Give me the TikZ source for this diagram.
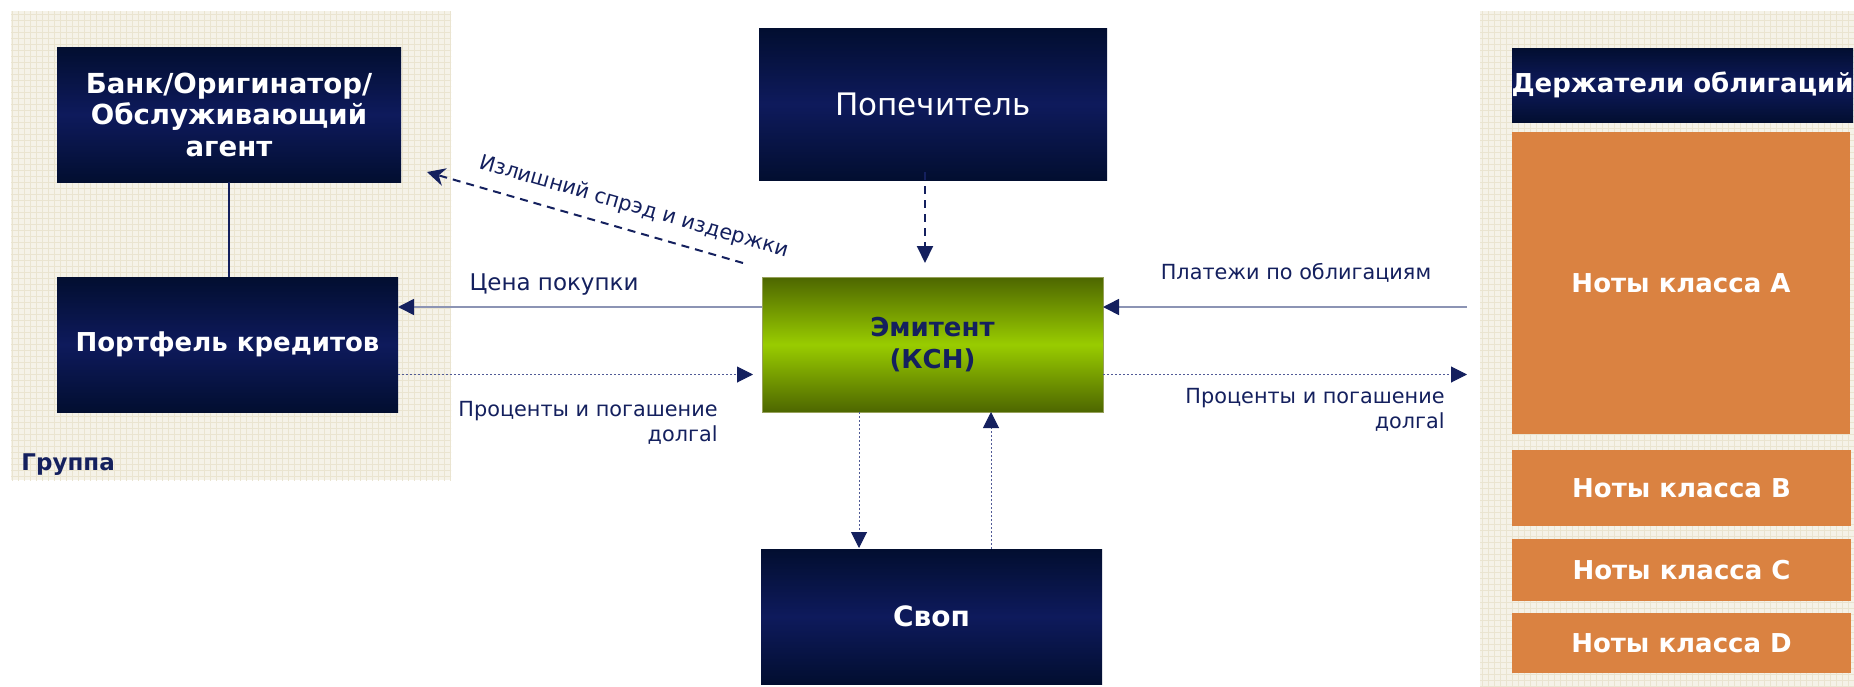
\documentclass[tikz,border=0pt]{standalone}
\usepackage{fontspec}
\setmainfont{DejaVu Sans}
\usetikzlibrary{arrows.meta,calc,patterns}
\definecolor{navyD}{RGB}{2,14,48}
\definecolor{navyM}{RGB}{14,26,92}
\definecolor{greenD}{RGB}{77,102,0}
\definecolor{greenM}{RGB}{153,204,0}
\definecolor{greenB}{RGB}{150,160,90}
\definecolor{orangeN}{RGB}{218,130,65}
\definecolor{beige}{RGB}{245,242,232}
\definecolor{beigeline}{RGB}{234,228,208}
\definecolor{ink}{RGB}{20,32,94}
\definecolor{lineblue}{RGB}{140,148,180}
\definecolor{dotblue}{RGB}{80,90,150}
\begin{document}
\begin{tikzpicture}[x=0.5pt,y=-0.5pt,
  boxbase/.style={rectangle,inner sep=0pt,outer sep=0pt,align=center},
  navybox/.style={boxbase,top color=navyD,bottom color=navyD,middle color=navyM,
    text=white,font=\bfseries\fontsize{13}{15.75}\selectfont},
  greenbox/.style={boxbase,draw=greenB,line width=0.5pt,top color=greenD,bottom color=greenD,middle color=greenM,
    text=ink,font=\bfseries\fontsize{13}{16}\selectfont},
  notebox/.style={boxbase,fill=orangeN,text=white,font=\bfseries\fontsize{13}{16}\selectfont},
  lbl/.style={text=ink,inner sep=0pt,font=\fontsize{10.4}{12.5}\selectfont},
  solidflow/.style={draw=lineblue,line width=0.8pt,-{Triangle[length=8pt,width=8pt,color=ink,fill=ink]}},
  dotflow/.style={draw=dotblue,line width=0.5pt,dash pattern=on 1pt off 1pt,
    -{Triangle[length=8pt,width=8pt,color=ink,fill=ink]}},
  dashflow/.style={draw=ink,line width=1pt,dash pattern=on 4pt off 3pt},
  link/.style={draw=ink,line width=1.3pt}
]
\useasboundingbox (0,0) rectangle (1854,686);
\fill[white] (0,0) rectangle (1854,686);
% backgrounds
\fill[beige] (11,11) rectangle (451,480);
\fill[pattern=grid,pattern color=beigeline] (11,11) rectangle (451,480);
\fill[beige] (1480,11) rectangle (1854,686);
\fill[pattern=grid,pattern color=beigeline] (1480,11) rectangle (1854,686);
\node[anchor=base west,inner sep=0pt,text=ink,font=\bfseries\fontsize{11.5}{14}\selectfont] (grp) at (21,470) {Группа};

% boxes
\node[navybox,minimum width=172pt,minimum height=67.5pt,font=\bfseries\fontsize{13.8}{15.75}\selectfont] (bank) at (229,114.5)
  {Банк/Оригинатор/\\Обслуживающий\\агент};
\node[navybox,minimum width=170.5pt,minimum height=67.5pt] (portf) at (227.5,344.5)
  {Портфель кредитов};
\node[navybox,minimum width=174pt,minimum height=76pt,font=\fontsize{15.5}{18}\selectfont] (trustee) at (933,104)
  {Попечитель};
\node[greenbox,minimum width=170.5pt,minimum height=67.5pt] (issuer) at (932.5,344.5)
  {Эмитент\\ (КСН)};
\node[navybox,minimum width=170.5pt,minimum height=67.5pt,font=\bfseries\fontsize{14}{17}\selectfont] (swap) at (931.5,616.5)
  {Своп};
\node[navybox,minimum width=170.5pt,minimum height=37pt,font=\bfseries\fontsize{13}{16}\selectfont] (holders) at (1682.5,85)
  {\makebox[0pt]{Держатели облигаций}};
\node[notebox,minimum width=169pt,minimum height=151pt] (nA) at (1681,283) {Ноты класса A};
\node[notebox,minimum width=169.5pt,minimum height=38pt] (nB) at (1681.5,488) {Ноты класса B};
\node[notebox,minimum width=169.5pt,minimum height=31pt] (nC) at (1681.5,570) {Ноты класса C};
\node[notebox,minimum width=169.5pt,minimum height=30pt] (nD) at (1681.5,643) {Ноты класса D};

% free ends on the right
\coordinate (rpay) at (1467,307);
\coordinate (rint) at (1467,374.5);

% connectors
\draw[link] (bank.south) -- (bank.south |- portf.north);
\draw[dashflow,-{Triangle[length=8.5pt,width=8pt,color=ink,fill=ink]}] ($(trustee.south)+(-8,-8)$) -- ($(issuer.north)+(-7.5,-14)$);
\draw[dashflow,-{Stealth[length=9pt,width=9pt,color=ink,fill=ink]}] ($(issuer.north west)+(-19,-14)$) -- ($(bank.south east)+(26,-10)$);
\draw[solidflow] ($(issuer.west)+(0,-37.5)$) -- ($(portf.east)+(0,-37.5)$);
\draw[dotflow] ($(portf.east)+(0,30)$) -- ($(issuer.west)+(-9,30)$);
\draw[solidflow] (rpay) -- ($(issuer.east)+(0,-37.5)$);
\draw[dotflow] ($(issuer.east)+(0,30)$) -- (rint);
\draw[dotflow] ($(issuer.south)+(-73.5,0)$) -- ($(swap.north)+(-72.5,-1)$);
\draw[dotflow] ($(swap.north)+(59.5,0)$) -- ($(issuer.south)+(58.5,0)$);

% labels
\node[lbl,rotate=-16.1] (lspread) at (634,207) {Излишний спрэд и издержки};
\node[lbl,anchor=base,font=\fontsize{11.5}{12.5}\selectfont] (lprice) at (554,290) {Цена покупки};
\node[lbl,anchor=base] (lpay) at (1296,279) {Платежи по облигациям};
\node[lbl,anchor=north east,align=right] (lintL) at (718,401) {Проценты и погашение\\долгаl};
\node[lbl,anchor=north east,align=right] (lintR) at (1445,388) {Проценты и погашение\\долгаl};
\end{tikzpicture}
\end{document}
